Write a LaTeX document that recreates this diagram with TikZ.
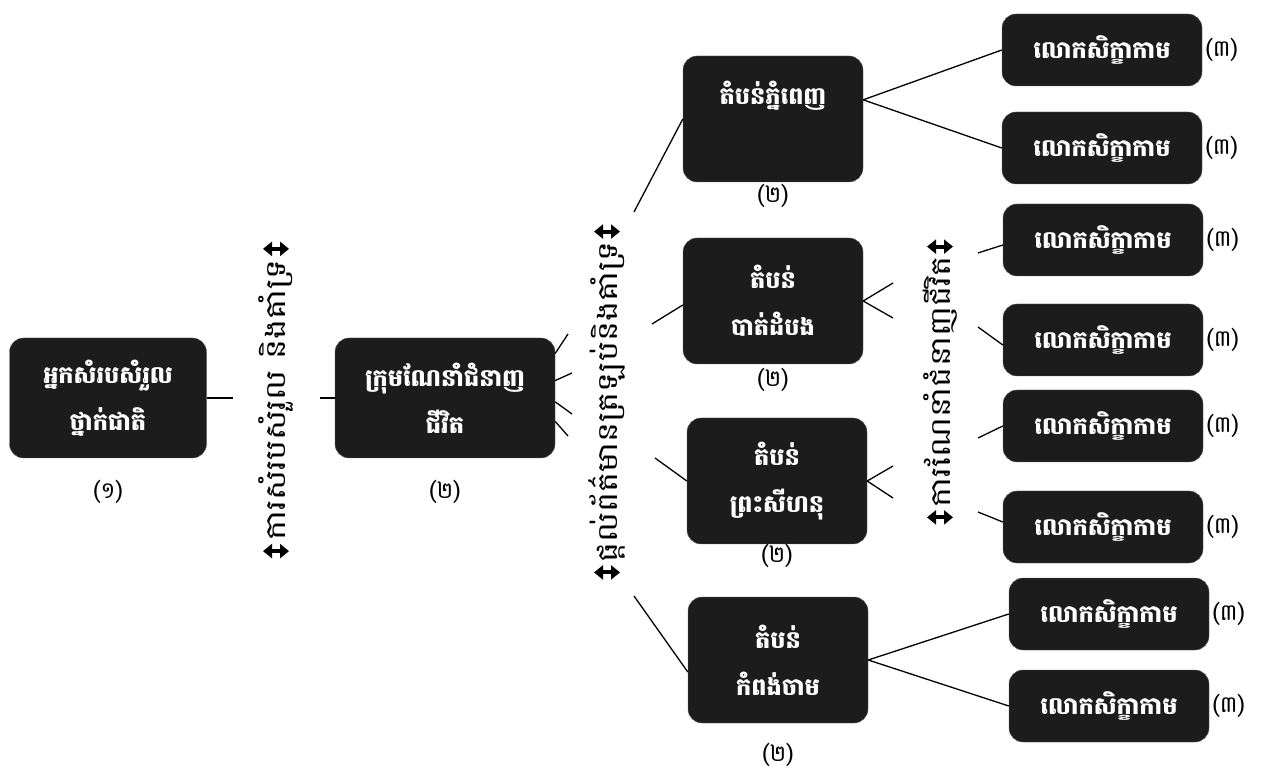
\documentclass[tikz,border=0pt]{standalone}
\usepackage{fontspec}
\newfontfamily\khmerfont[Script=Khmer]{Battambang}
\newfontfamily\khmerwide[Script=Khmer, FakeStretch=1.2]{Battambang}
\usetikzlibrary{positioning}
\usetikzlibrary{arrows.meta}
\definecolor{boxfill}{HTML}{1C1C1C}
\definecolor{boxedge}{HTML}{606060}
\tikzset {
  org box/.style = {
    draw = boxedge,
    fill = boxfill,
    rounded corners = 14pt,
    text = white,
    align = center,
    inner sep = 0,
    font = \khmerfont\bfseries\fontsize{24}{47}\selectfont
  },
  % national coordinator and the team
  hub/.style = {
    org box,
    minimum height = 120pt
  },
  % one region
  zone/.style = {
    org box,
    minimum width = 180pt,
    minimum height = 126pt
  },
  % trainees
  leaf/.style = {
    org box,
    minimum width = 200pt,
    minimum height = 72pt
  },
  % level number
  level/.style = {
    font = \khmerfont\fontsize{23}{24}\selectfont,
    inner sep = 0
  },
  % rotated text between two levels
  flow/.style = {
    rotate = 90,
    font = \khmerwide\fontsize{28}{30}\selectfont,
    inner sep = 1pt
  },
  % thick two-way arrow at each end of a flow text
  twoway/.style = {
    line width = 4pt,
    {Triangle[width=14pt,length=9pt]}-{Triangle[width=14pt,length=9pt]}
  },
  link/.style = {
    draw = black,
    line width = 1.3pt
  },
  node distance = 3pt
}

\begin{document}
\begin{tikzpicture}[x=1pt, y=-1pt]
    \useasboundingbox (0,0) rectangle (1262,775);

    \node[hub, minimum width = 197pt] (natcoord) at (108,398) {អ្នកសំរបសំរួល\\ថ្នាក់ជាតិ};
    \node[level] (natcoord-lvl) [below=22pt of natcoord] {(១)};
    \node[hub, minimum width = 220pt] (team) at (445,398) {ក្រុមណែនាំជំនាញ\\ជីវិត};
    \node[level] (team-lvl) [below=22pt of team] {(២)};

    \node[zone] (phnompenh) at (773,119) {តំបន់ភ្នំពេញ\\\phantom{ភ្នំពេញ}};
    \node[level] (phnompenh-lvl) [below=2pt of phnompenh] {(២)};
    \node[zone] (battambang) at (773,301) {តំបន់\\បាត់ដំបង};
    \node[level] (battambang-lvl) [below=4pt of battambang] {(២)};
    \node[zone] (sihanouk) at (777,481) {តំបន់\\ព្រះសីហនុ};
    \node[level] (sihanouk-lvl) [below=0pt of sihanouk] {(២)};
    \node[zone] (kampongcham) at (778,660) {តំបន់\\កំពង់ចាម};
    \node[level] (kampongcham-lvl) [below=20pt of kampongcham] {(២)};

    \node[leaf] (trainee-a) at (1102,50) {លោកសិក្ខាកាម};
    \node[leaf] (trainee-b) at (1102,148) {លោកសិក្ខាកាម};
    \node[leaf] (trainee-c) at (1103,240) {លោកសិក្ខាកាម};
    \node[leaf] (trainee-d) at (1103,340) {លោកសិក្ខាកាម};
    \node[leaf] (trainee-e) at (1103,426) {លោកសិក្ខាកាម};
    \node[leaf] (trainee-f) at (1103,527) {លោកសិក្ខាកាម};
    \node[leaf] (trainee-g) at (1109,614) {លោកសិក្ខាកាម};
    \node[leaf] (trainee-h) at (1109,706) {លោកសិក្ខាកាម};
    \node[level] [right=of trainee-a] {(៣)};
    \node[level] [right=of trainee-b] {(៣)};
    \node[level] [right=of trainee-c] {(៣)};
    \node[level] [right=of trainee-d] {(៣)};
    \node[level] [right=of trainee-e] {(៣)};
    \node[level] [right=of trainee-f] {(៣)};
    \node[level] [right=of trainee-g] {(៣)};
    \node[level] [right=of trainee-h] {(៣)};

    % texts on the links
    \node[flow] (coord-txt) at (276,400) {ការសំរបសំរួល និងគាំទ្រ};
    \draw[twoway] ([shift={(-13pt,9pt)}]coord-txt.east) -- ([shift={(13pt,9pt)}]coord-txt.east);
    \draw[twoway] ([shift={(-13pt,-9pt)}]coord-txt.west) -- ([shift={(13pt,-9pt)}]coord-txt.west);
    \node[flow] (feed-txt) at (607,402) {ផ្តល់ព័ត៌មានត្រឡប់និងគាំទ្រ};
    \draw[twoway] ([shift={(-13pt,9pt)}]feed-txt.east) -- ([shift={(13pt,9pt)}]feed-txt.east);
    \draw[twoway] ([shift={(-13pt,-9pt)}]feed-txt.west) -- ([shift={(13pt,-9pt)}]feed-txt.west);
    \node[flow] (guide-txt) at (940,382) {ការណែនាំជំនាញជីវិត};
    \draw[twoway] ([shift={(-13pt,9pt)}]guide-txt.east) -- ([shift={(13pt,9pt)}]guide-txt.east);
    \draw[twoway] ([shift={(-13pt,-9pt)}]guide-txt.west) -- ([shift={(13pt,-9pt)}]guide-txt.west);

    % ends of the broken links
    \coordinate (coord-in) at (233,398);
    \coordinate (coord-out) at (320,398);
    \coordinate (fan-a) at (568,334);
    \coordinate (fan-b) at (572,373);
    \coordinate (fan-c) at (572,414);
    \coordinate (fan-d) at (568,436);
    \coordinate (feed-a) at (634,212);
    \coordinate (feed-b) at (652,324);
    \coordinate (feed-c) at (655,458);
    \coordinate (feed-d) at (634,596);
    \coordinate (guide-a) at (893,283);
    \coordinate (guide-b) at (893,318);
    \coordinate (guide-c) at (893,466);
    \coordinate (guide-d) at (893,498);
    \coordinate (guide-e) at (978,253);
    \coordinate (guide-f) at (978,327);
    \coordinate (guide-g) at (978,438);
    \coordinate (guide-h) at (978,512);

    \draw[link] (natcoord) -- (coord-in);
    \draw[link] (coord-out) -- (team);
    \draw[link] (team.22) -- (fan-a);
    \draw[link] (team.9) -- (fan-b);
    \draw[link] (team.-2) -- (fan-c);
    \draw[link] (team.-12) -- (fan-d);

    \draw[link] (feed-a) -- (phnompenh.west);
    \draw[link] (feed-b) -- ([yshift=-4pt]battambang.west);
    \draw[link] (feed-c) -- (sihanouk.west);
    \draw[link] (feed-d) -- ([yshift=-12pt]kampongcham.west);

    \draw[link] (phnompenh.12) -- (trainee-a.west);
    \draw[link] (phnompenh.12) -- (trainee-b.west);
    \draw[link] (battambang.east) -- (guide-a);
    \draw[link] (battambang.east) -- (guide-b);
    \draw[link] (sihanouk.east) -- (guide-c);
    \draw[link] (sihanouk.east) -- (guide-d);
    \draw[link] (guide-e) -- ([yshift=-5pt]trainee-c.west);
    \draw[link] (guide-f) -- ([yshift=-5pt]trainee-d.west);
    \draw[link] (guide-g) -- (trainee-e.west);
    \draw[link] (guide-h) -- ([yshift=5pt]trainee-f.west);
    \draw[link] (kampongcham.east) -- (trainee-g.west);
    \draw[link] (kampongcham.east) -- (trainee-h.west);
\end{tikzpicture}
\end{document}
